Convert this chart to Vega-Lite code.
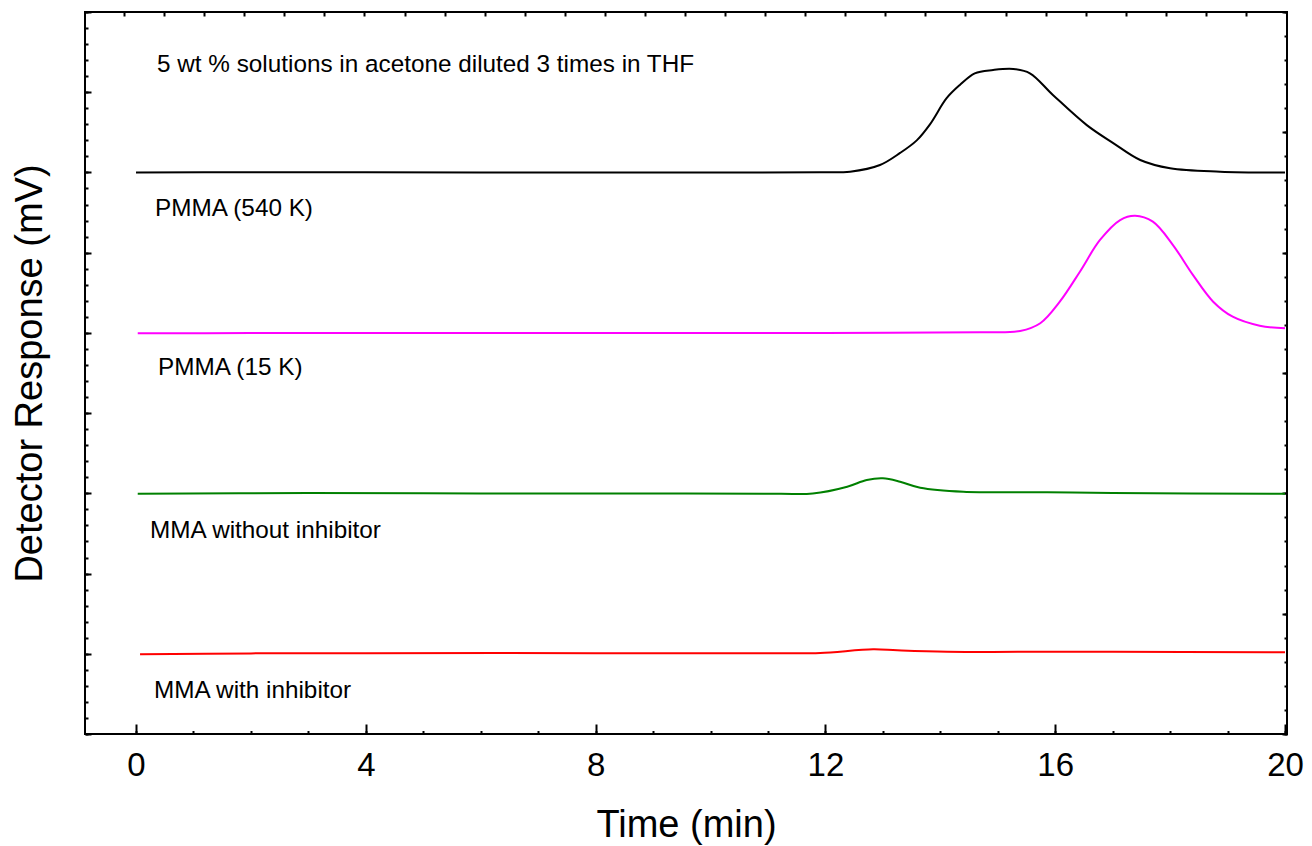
{
  "$schema": "https://vega.github.io/schema/vega-lite/v6.json",
  "width": 1202,
  "height": 722,
  "autosize": "none",
  "padding": {"left": 85, "top": 12, "right": 25, "bottom": 112},
  "background": "white",
  "config": {
    "view": {"stroke": "black", "strokeWidth": 2},
    "axis": {"domain": false, "grid": false, "tickColor": "black", "tickWidth": 2, "labelFont": "Liberation Sans", "titleFont": "Liberation Sans", "titleFontWeight": "normal", "labelColor": "black", "titleColor": "black"}
  },
  "datasets": {
    "curves": [
      {"series": "PMMA (540 K)", "t": 0, "v": 7.0},
      {"series": "PMMA (540 K)", "t": 2, "v": 7.002},
      {"series": "PMMA (540 K)", "t": 4, "v": 7.003},
      {"series": "PMMA (540 K)", "t": 6, "v": 7.0},
      {"series": "PMMA (540 K)", "t": 8, "v": 7.0},
      {"series": "PMMA (540 K)", "t": 10, "v": 7.0},
      {"series": "PMMA (540 K)", "t": 11.906, "v": 7.002},
      {"series": "PMMA (540 K)", "t": 12.43, "v": 7.01},
      {"series": "PMMA (540 K)", "t": 12.95, "v": 7.093},
      {"series": "PMMA (540 K)", "t": 13.3, "v": 7.243},
      {"series": "PMMA (540 K)", "t": 13.59, "v": 7.4},
      {"series": "PMMA (540 K)", "t": 13.82, "v": 7.6},
      {"series": "PMMA (540 K)", "t": 14.11, "v": 7.925},
      {"series": "PMMA (540 K)", "t": 14.34, "v": 8.09},
      {"series": "PMMA (540 K)", "t": 14.6, "v": 8.236},
      {"series": "PMMA (540 K)", "t": 14.92, "v": 8.277},
      {"series": "PMMA (540 K)", "t": 15.27, "v": 8.29},
      {"series": "PMMA (540 K)", "t": 15.56, "v": 8.236},
      {"series": "PMMA (540 K)", "t": 15.96, "v": 7.966},
      {"series": "PMMA (540 K)", "t": 16.55, "v": 7.59},
      {"series": "PMMA (540 K)", "t": 17.01, "v": 7.366},
      {"series": "PMMA (540 K)", "t": 17.48, "v": 7.155},
      {"series": "PMMA (540 K)", "t": 18.0, "v": 7.052},
      {"series": "PMMA (540 K)", "t": 18.87, "v": 7.01},
      {"series": "PMMA (540 K)", "t": 20, "v": 7.0},
      {"series": "PMMA (15 K)", "t": 0.03, "v": 4.995},
      {"series": "PMMA (15 K)", "t": 2, "v": 4.998},
      {"series": "PMMA (15 K)", "t": 4, "v": 5.0},
      {"series": "PMMA (15 K)", "t": 6, "v": 5.0},
      {"series": "PMMA (15 K)", "t": 8, "v": 5.0},
      {"series": "PMMA (15 K)", "t": 10, "v": 5.0},
      {"series": "PMMA (15 K)", "t": 12, "v": 5.0},
      {"series": "PMMA (15 K)", "t": 14.69, "v": 5.008},
      {"series": "PMMA (15 K)", "t": 15.39, "v": 5.024},
      {"series": "PMMA (15 K)", "t": 15.74, "v": 5.12},
      {"series": "PMMA (15 K)", "t": 16.08, "v": 5.389},
      {"series": "PMMA (15 K)", "t": 16.43, "v": 5.763},
      {"series": "PMMA (15 K)", "t": 16.78, "v": 6.158},
      {"series": "PMMA (15 K)", "t": 17.13, "v": 6.407},
      {"series": "PMMA (15 K)", "t": 17.39, "v": 6.461},
      {"series": "PMMA (15 K)", "t": 17.7, "v": 6.386},
      {"series": "PMMA (15 K)", "t": 18.05, "v": 6.095},
      {"series": "PMMA (15 K)", "t": 18.4, "v": 5.72},
      {"series": "PMMA (15 K)", "t": 18.75, "v": 5.389},
      {"series": "PMMA (15 K)", "t": 19.09, "v": 5.202},
      {"series": "PMMA (15 K)", "t": 19.56, "v": 5.09},
      {"series": "PMMA (15 K)", "t": 20, "v": 5.057},
      {"series": "MMA without inhibitor", "t": 0.03, "v": 2.995},
      {"series": "MMA without inhibitor", "t": 3, "v": 3.003},
      {"series": "MMA without inhibitor", "t": 6, "v": 2.998},
      {"series": "MMA without inhibitor", "t": 9, "v": 2.998},
      {"series": "MMA without inhibitor", "t": 11.21, "v": 2.994},
      {"series": "MMA without inhibitor", "t": 11.78, "v": 2.998},
      {"series": "MMA without inhibitor", "t": 12.38, "v": 3.083},
      {"series": "MMA without inhibitor", "t": 12.72, "v": 3.166},
      {"series": "MMA without inhibitor", "t": 13.0, "v": 3.187},
      {"series": "MMA without inhibitor", "t": 13.3, "v": 3.145},
      {"series": "MMA without inhibitor", "t": 13.65, "v": 3.07},
      {"series": "MMA without inhibitor", "t": 14.4, "v": 3.02},
      {"series": "MMA without inhibitor", "t": 15.86, "v": 3.013},
      {"series": "MMA without inhibitor", "t": 17.0, "v": 3.004},
      {"series": "MMA without inhibitor", "t": 20, "v": 2.995},
      {"series": "MMA with inhibitor", "t": 0.07, "v": 0.995},
      {"series": "MMA with inhibitor", "t": 2, "v": 1.005},
      {"series": "MMA with inhibitor", "t": 4, "v": 1.008},
      {"series": "MMA with inhibitor", "t": 8, "v": 1.008},
      {"series": "MMA with inhibitor", "t": 11.21, "v": 1.006},
      {"series": "MMA with inhibitor", "t": 11.91, "v": 1.01},
      {"series": "MMA with inhibitor", "t": 12.83, "v": 1.056},
      {"series": "MMA with inhibitor", "t": 13.25, "v": 1.043},
      {"series": "MMA with inhibitor", "t": 14.12, "v": 1.026},
      {"series": "MMA with inhibitor", "t": 17.0, "v": 1.026},
      {"series": "MMA with inhibitor", "t": 20, "v": 1.018}
    ],
    "labels": [
      {"text": "5 wt % solutions in acetone diluted 3 times in THF", "t": 0.366, "v": 8.34},
      {"text": "PMMA (540 K)", "t": 0.33, "v": 6.54},
      {"text": "PMMA (15 K)", "t": 0.383, "v": 4.56},
      {"text": "MMA without inhibitor", "t": 0.244, "v": 2.53},
      {"text": "MMA with inhibitor", "t": 0.313, "v": 0.535}
    ]
  },
  "layer": [
    {
      "data": {"name": "curves"},
      "mark": {"type": "line", "strokeWidth": 2, "interpolate": "catmull-rom"},
      "encoding": {
        "x": {"field": "t", "type": "quantitative", "scale": {"domain": [-0.888, 20.035], "nice": false, "zero": false},
          "axis": {"orient": "bottom", "values": [0, 4, 8, 12, 16, 20], "tickSize": -10, "labelFontSize": 33, "labelPadding": 25, "title": "Time (min)", "titleFontSize": 38, "titlePadding": 24}},
        "y": {"field": "v", "type": "quantitative", "scale": {"domain": [0, 9], "nice": false, "zero": false},
          "axis": {"orient": "left", "values": [0, 1, 2, 3, 4, 5, 6, 7, 8, 9], "tickSize": -6, "labels": false, "title": "Detector Response (mV)", "titleFontSize": 38, "titlePadding": 35}},
        "color": {"field": "series", "type": "nominal", "legend": null,
          "scale": {"domain": ["PMMA (540 K)", "PMMA (15 K)", "MMA without inhibitor", "MMA with inhibitor"], "range": ["#000000", "#FF00FF", "#008000", "#FF0000"]}},
        "detail": {"field": "series"}
      }
    },
    {
      "data": {"name": "curves"},
      "mark": {"type": "point", "opacity": 0},
      "encoding": {
        "x": {"field": "t", "type": "quantitative", "scale": {"domain": [-0.888, 20.035], "nice": false, "zero": false},
          "axis": {"orient": "bottom", "values": [0, 1, 2, 3, 4, 5, 6, 7, 8, 9, 10, 11, 12, 13, 14, 15, 16, 17, 18, 19, 20], "tickSize": -3.5, "labels": false, "title": null}},
        "y": {"field": "v", "type": "quantitative", "scale": {"domain": [0, 9], "nice": false, "zero": false},
          "axis": {"orient": "left", "values": [0, 0.2, 0.4, 0.6, 0.8, 1, 1.2, 1.4, 1.6, 1.8, 2, 2.2, 2.4, 2.6, 2.8, 3, 3.2, 3.4, 3.6, 3.8, 4, 4.2, 4.4, 4.6, 4.8, 5, 5.2, 5.4, 5.6, 5.8, 6, 6.2, 6.4, 6.6, 6.8, 7, 7.2, 7.4, 7.6, 7.8, 8, 8.2, 8.4, 8.6, 8.8, 9], "tickSize": -3, "labels": false, "title": null}}
      }
    },
    {
      "data": {"name": "curves"},
      "mark": {"type": "point", "opacity": 0},
      "encoding": {
        "x": {"field": "t", "type": "quantitative", "scale": {"domain": [-0.888, 20.035], "nice": false, "zero": false},
          "axis": {"orient": "top", "values": [-0.209, 0.4885, 1.186, 1.8835, 2.581, 3.2785, 3.976, 4.6735, 5.371, 6.0685, 6.766, 7.4635, 8.161, 8.8585, 9.556, 10.2535, 10.951, 11.6485, 12.346, 13.0435, 13.741, 14.4385, 15.136, 15.8335, 16.531, 17.2285, 17.926, 18.6235, 19.321], "tickSize": -4, "labels": false, "title": null}},
        "y": {"field": "v", "type": "quantitative", "scale": {"domain": [0, 9], "nice": false, "zero": false},
          "axis": {"orient": "right", "values": [0, 1.5, 3, 4.5, 6, 7.5, 9], "tickSize": -5, "labels": false, "title": null}}
      }
    },
    {
      "data": {"name": "curves"},
      "mark": {"type": "point", "opacity": 0},
      "encoding": {
        "x": {"field": "t", "type": "quantitative", "scale": {"domain": [-0.888, 20.035], "nice": false, "zero": false}, "axis": null},
        "y": {"field": "v", "type": "quantitative", "scale": {"domain": [0, 9], "nice": false, "zero": false},
          "axis": {"orient": "right", "values": [0, 0.3, 0.6, 0.9, 1.2, 1.5, 1.8, 2.1, 2.4, 2.7, 3, 3.3, 3.6, 3.9, 4.2, 4.5, 4.8, 5.1, 5.4, 5.7, 6, 6.3, 6.6, 6.9, 7.2, 7.5, 7.8, 8.1, 8.4, 8.7, 9], "tickSize": -3, "labels": false, "title": null}}
      }
    },
    {
      "data": {"name": "labels"},
      "mark": {"type": "text", "align": "left", "baseline": "middle", "font": "Liberation Sans", "fontSize": 24.3, "color": "black"},
      "encoding": {
        "x": {"field": "t", "type": "quantitative", "scale": {"domain": [-0.888, 20.035], "nice": false, "zero": false}, "axis": null},
        "y": {"field": "v", "type": "quantitative", "scale": {"domain": [0, 9], "nice": false, "zero": false}, "axis": null},
        "text": {"field": "text"}
      }
    }
  ],
  "resolve": {"scale": {"x": "independent", "y": "independent"}, "axis": {"x": "independent", "y": "independent"}}
}
